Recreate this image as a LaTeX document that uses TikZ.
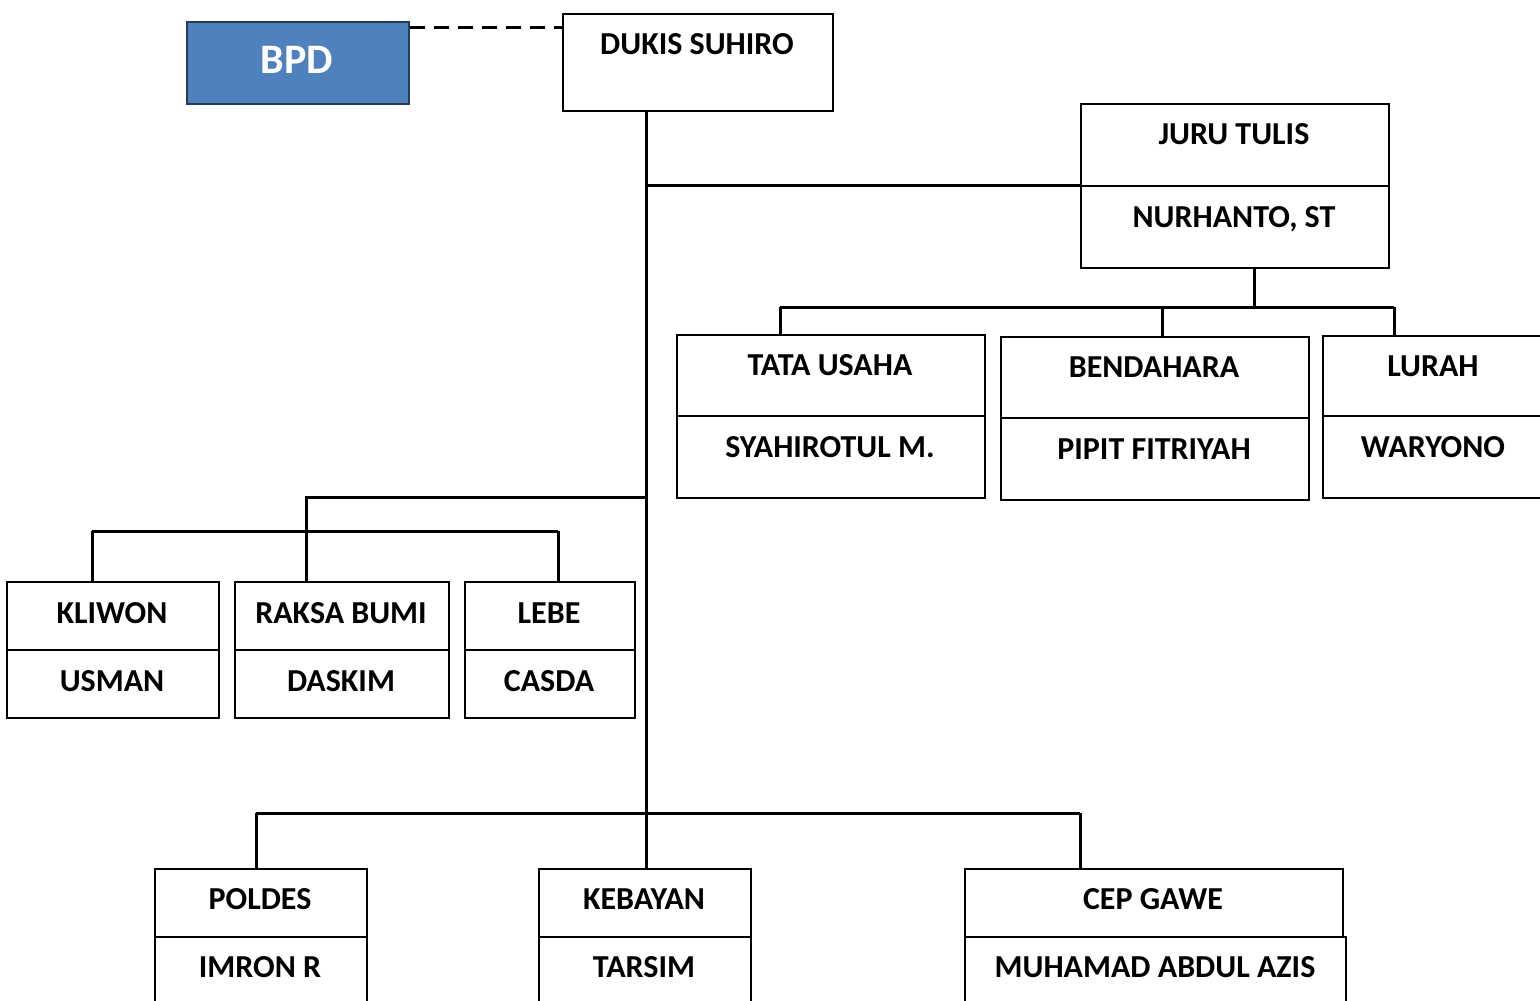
\documentclass[tikz,border=0pt]{standalone}
\usepackage{fontspec}
\setmainfont{Carlito}
\begin{document}
\begin{tikzpicture}[x=1pt,y=-1pt,
  sect/.style={draw=black,line width=1.6pt,rectangle,inner sep=0pt,anchor=north west},
  lbl/.style={anchor=base,inner sep=0pt,font=\fontsize{32}{32}\selectfont\bfseries},
  conn/.style={line width=3pt}]
\useasboundingbox (0,0) rectangle (1540,1001);
\clip (0,0) rectangle (1540,1001);
% BPD and head
\node[sect,fill={rgb,255:red,79;green,129;blue,189},draw={rgb,255:red,40;green,60;blue,90},minimum width=222pt,minimum height=82pt] (bpd) at (186,21) {};
\node[anchor=base,inner sep=0pt,text=white,font=\fontsize{42}{42}\selectfont\bfseries] (bpdT) at (297,73) {BPD};
\node[sect,minimum width=270pt,minimum height=97pt] (dukis) at (562,13) {};
\node[lbl] (dukisT) at (697,54) {DUKIS SUHIRO};
% Juru tulis
\node[sect,minimum width=308pt,minimum height=82pt] (jt1) at (1080,103) {};
\node[sect,minimum width=308pt,minimum height=82pt] (jt2) at (1080,185) {};
\node[lbl] at (1234,144) {JURU TULIS};
\node[lbl] at (1234,227) {NURHANTO, ST};
% Row 2
\node[sect,minimum width=308pt,minimum height=81pt] (tu1) at (676,334) {};
\node[sect,minimum width=308pt,minimum height=82pt] (tu2) at (676,415) {};
\node[lbl] at (830,375) {TATA USAHA};
\node[lbl] at (830,457) {SYAHIROTUL M.};
\node[sect,minimum width=308pt,minimum height=81pt] (bd1) at (1000,336) {};
\node[sect,minimum width=308pt,minimum height=82pt] (bd2) at (1000,417) {};
\node[lbl] at (1154,377) {BENDAHARA};
\node[lbl] at (1154,459) {PIPIT FITRIYAH};
\node[sect,minimum width=240pt,minimum height=80pt] (lu1) at (1322,335) {};
\node[sect,minimum width=240pt,minimum height=82pt] (lu2) at (1322,415) {};
\node[lbl] at (1433,376) {LURAH};
\node[lbl] at (1433,457) {WARYONO};
% Row 3
\node[sect,minimum width=212pt,minimum height=68pt] (kl1) at (6,581) {};
\node[sect,minimum width=212pt,minimum height=68pt] (kl2) at (6,649) {};
\node[lbl] at (112,623) {KLIWON};
\node[lbl] at (112,691) {USMAN};
\node[sect,minimum width=214pt,minimum height=68pt] (rb1) at (234,581) {};
\node[sect,minimum width=214pt,minimum height=68pt] (rb2) at (234,649) {};
\node[lbl] at (341,623) {RAKSA BUMI};
\node[lbl] at (341,691) {DASKIM};
\node[sect,minimum width=170pt,minimum height=68pt] (lb1) at (464,581) {};
\node[sect,minimum width=170pt,minimum height=68pt] (lb2) at (464,649) {};
\node[lbl] at (549,623) {LEBE};
\node[lbl] at (549,691) {CASDA};
% Row 4
\node[sect,minimum width=212pt,minimum height=68pt] (po1) at (154,868) {};
\node[sect,minimum width=212pt,minimum height=80pt] (po2) at (154,936) {};
\node[lbl] at (260,909) {POLDES};
\node[lbl] at (260,977) {IMRON R};
\node[sect,minimum width=212pt,minimum height=68pt] (ke1) at (538,868) {};
\node[sect,minimum width=212pt,minimum height=80pt] (ke2) at (538,936) {};
\node[lbl] at (644,909) {KEBAYAN};
\node[lbl] at (644,977) {TARSIM};
\node[sect,minimum width=378pt,minimum height=68pt] (cg1) at (964,868) {};
\node[sect,minimum width=381pt,minimum height=80pt] (cg2) at (964,936) {};
\node[lbl] at (1153,909) {CEP GAWE};
\node[lbl] at (1155,977) {MUHAMAD ABDUL AZIS};
% connectors
\draw[line width=3pt,dash pattern=on 15pt off 9pt] (bpd.north east |- 0,27) -- (dukis.west |- 0,27);
\coordinate (t0) at (646,110);
\coordinate (t1) at (646,185);
\coordinate (t2) at (646,497);
\coordinate (t3) at (646,813);
\draw[conn] (t0) -- (ke1.north -| t0);
\draw[conn] (t1) -- (jt2.north west);
\coordinate (j0) at (1254,307);
\draw[conn] (jt2.south -| j0) -- (j0);
\draw[conn] (780,307) coordinate (h1) -- (1394,307) coordinate (h2);
\draw[conn] (h1) -- (tu1.north -| h1);
\draw[conn] (1162,307) coordinate (h3) -- (bd1.north -| h3);
\draw[conn] (h2) -- (lu1.north -| h2);
\coordinate (l0) at (306,497);
\draw[conn] (t2) -- (l0) -- (rb1.north -| l0);
\draw[conn] (92,531) coordinate (l1) -- (558,531) coordinate (l2);
\draw[conn] (l1) -- (kl1.north -| l1);
\draw[conn] (l2) -- (lb1.north -| l2);
\draw[conn] (256,813) coordinate (b1) -- (1080,813) coordinate (b2);
\draw[conn] (b1) -- (po1.north -| b1);
\draw[conn] (b2) -- (cg1.north -| b2);
\end{tikzpicture}
\end{document}
